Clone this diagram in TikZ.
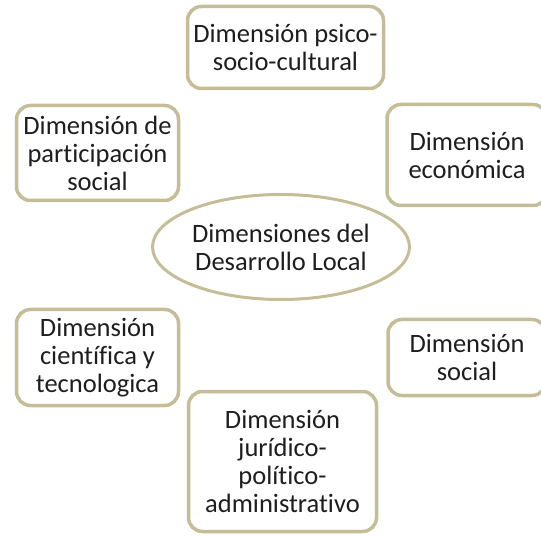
\documentclass[tikz,border=0pt]{standalone}
\usepackage{fontspec}
\setmainfont[Ligatures=NoCommon]{Carlito}
\usetikzlibrary{shapes.geometric}
\definecolor{dimborder}{RGB}{196,189,151}
\definecolor{dimtext}{RGB}{30,30,30}

\tikzstyle{dimbox} = [rectangle, draw=dimborder, line width=3.5pt, fill=white, rounded corners=14pt, align=center, text=dimtext, font=\fontsize{26.5}{28}\selectfont, inner sep=0pt]
\tikzstyle{coreellipse} = [ellipse, draw=dimborder, line width=3pt, fill=white, align=center, text=dimtext, font=\fontsize{26.5}{28}\selectfont, inner sep=0pt]

\begin{document}
\begin{tikzpicture}[x=1pt, y=-1pt]
        \useasboundingbox (0,0) rectangle (541,537);
        \clip (0,0) rectangle (541,537);
        % Center ellipse
        \node (core) at (281,247) [coreellipse, minimum width=257pt, minimum height=105pt] {Dimensiones del\\Desarrollo Local};
        % Surrounding dimensions
        \node (psico) at (285.5,47.5) [dimbox, minimum width=196pt, minimum height=82pt] {Dimensión psico-\\socio-cultural};
        \node (partic) at (97.5,153) [dimbox, minimum width=162pt, minimum height=95pt] {Dimensión de\\participación\\social};
        \node (econ) at (467,155) [dimbox, minimum width=160pt, minimum height=101pt] {Dimensión\\económica};
        \node (cienc) at (97.5,357.5) [dimbox, minimum width=162pt, minimum height=96pt] {Dimensión\\científica y\\tecnologica};
        \node (soc) at (467,357.5) [dimbox, minimum width=158pt, minimum height=76pt] {Dimensión\\social};
        \node (jurid) at (282.5,461.5) [dimbox, minimum width=188pt, minimum height=140pt] {Dimensión\\jurídico-\\político-\\administrativo};
    \end{tikzpicture}
\end{document}
